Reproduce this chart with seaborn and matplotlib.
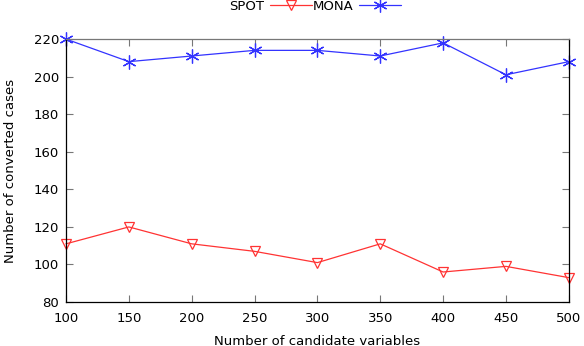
import pandas as pd
import matplotlib
matplotlib.use("Agg")
import matplotlib.pyplot as plt
import seaborn as sns

# data
candidates = [100, 150, 200, 250, 300, 350, 400, 450, 500]
spot = [111, 120, 111, 107, 101, 111, 96, 99, 93]
mona = [220, 208, 211, 214, 214, 211, 218, 201, 208]
y_ticks = [80, 100, 120, 140, 160, 180, 200, 220]

df = pd.DataFrame({"x": candidates, "SPOT": spot, "MONA": mona})

FS = 9.5

sns.set_theme(style="ticks")
plt.rcParams["font.family"] = ["DejaVu Sans"]
plt.rcParams["font.size"] = FS
plt.rcParams["text.color"] = "black"
plt.rcParams["axes.labelcolor"] = "black"
plt.rcParams["xtick.labelcolor"] = "black"
plt.rcParams["ytick.labelcolor"] = "black"

fig = plt.figure(figsize=(5.84, 3.46), dpi=100)
ax = fig.add_axes([0.113, 0.127, 0.861, 0.76])

sns.lineplot(data=df, x="x", y="SPOT", ax=ax, color="#ff3333", lw=0.9,
             marker="v", markersize=7, markerfacecolor="none",
             markeredgecolor="#ff3333", markeredgewidth=0.9, label="SPOT",
             clip_on=False)
sns.lineplot(data=df, x="x", y="MONA", ax=ax, color="#3333ff", lw=0.9,
             marker=(6, 2, 0), markersize=10, markeredgecolor="#3333ff",
             markeredgewidth=0.9, label="MONA", clip_on=False)

ax.set_xlim(100, 500)
ax.set_ylim(80, 220)
ax.set_xticks(candidates)
ax.set_yticks(y_ticks)
ax.set_xlabel("Number of candidate variables", fontsize=FS, labelpad=7)
ax.set_ylabel("Number of converted cases", fontsize=FS, labelpad=12)
ax.tick_params(direction="in", top=True, right=True, length=5, width=0.8,
               color="#777777", labelsize=FS)
ax.tick_params(axis="x", pad=7)
ax.tick_params(axis="y", pad=5)
for s in ax.spines.values():
    s.set_color("black")
    s.set_linewidth(0.9)
ax.spines["top"].set_color("#777777")

ax.legend(loc="upper center", bbox_to_anchor=(0.496, 1.17), ncol=2,
          frameon=False, markerfirst=False, fontsize=FS, handlelength=3.2,
          columnspacing=0.1, handletextpad=0.4, borderaxespad=0)

fig.savefig("out.png", dpi=100)
